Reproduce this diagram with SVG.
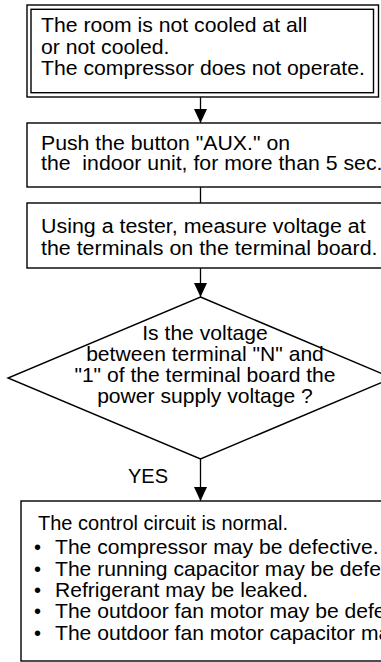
<svg xmlns="http://www.w3.org/2000/svg" width="381" height="662" viewBox="0 0 381 662">
<style>
.box{fill:#fff;stroke:#000;stroke-width:1.4}
.ln{fill:none;stroke:#000;stroke-width:1.3}
text{font-family:"Liberation Sans",Arial,sans-serif;font-size:20px;fill:#000}
.c{text-anchor:middle}
</style>
<defs>
<marker id="ah" markerWidth="14" markerHeight="14" refX="14" refY="7" orient="auto" markerUnits="userSpaceOnUse">
<path d="M0,0.5 L14,7 L0,13.5 Z" fill="#000"/>
</marker>
</defs>
<rect width="381" height="662" fill="#fff"/>
<g id="connectors">
<line class="ln" x1="200.5" y1="97" x2="200.5" y2="123" marker-end="url(#ah)"/>
<line class="ln" x1="200.5" y1="187" x2="200.5" y2="203"/>
<line class="ln" x1="200.5" y1="268" x2="200.5" y2="297" marker-end="url(#ah)"/>
<line class="ln" x1="200.5" y1="459" x2="200.5" y2="501" marker-end="url(#ah)"/>
<text x="128" y="483">YES</text>
</g>
<g id="start">
<rect class="box" x="27" y="5" width="351.5" height="92"/>
<rect class="box" x="31" y="9.3" width="342.5" height="83.4"/>
<g transform="matrix(1.06 0 0 1 -2.46 0)">
<text x="41" y="32.5">The room is not cooled at all</text>
<text x="41" y="54">or not cooled.</text>
<text x="41" y="75.5">The compressor does not operate.</text>
</g>
</g>
<g id="push">
<rect class="box" x="27" y="123" width="370" height="64"/>
<g transform="matrix(1.064 0 0 1 -2.62 0)">
<text x="41" y="150">Push the button "AUX." on</text>
<text x="41" y="170.5" xml:space="preserve">the  indoor unit, for more than 5 sec.</text>
</g>
</g>
<g id="measure">
<rect class="box" x="27" y="203" width="370" height="65"/>
<g transform="matrix(1.07 0 0 1 -2.87 0)">
<text x="41" y="233">Using a tester, measure voltage at</text>
<text x="41" y="255">the terminals on the terminal board.</text>
</g>
</g>
<g id="decision">
<polygon class="box" points="200.5,297 392,378 200.5,459 8,378"/>
<g transform="matrix(1.055 0 0 1 -11.28 0)">
<text class="c" x="205" y="340">Is the voltage</text>
<text class="c" x="205" y="361">between terminal "N" and</text>
<text class="c" x="205" y="382">"1" of the terminal board the</text>
<text class="c" x="205" y="403">power supply voltage ?</text>
</g>
</g>
<g id="result">
<rect class="box" x="21" y="501" width="380" height="160"/>
<text x="38" y="530">The control circuit is normal.</text>
<text x="34" y="554">•</text>
<text x="34" y="576">•</text>
<text x="34" y="597">•</text>
<text x="34" y="618">•</text>
<text x="34" y="640">•</text>
<g transform="matrix(1.055 0 0 1 -3.03 0)">
<text x="55" y="554">The compressor may be defective.</text>
<text x="55" y="576">The running capacitor may be defective.</text>
<text x="55" y="597">Refrigerant may be leaked.</text>
<text x="55" y="618">The outdoor fan motor may be defective.</text>
<text x="55" y="640">The outdoor fan motor capacitor may be defective.</text>
</g>
</g>
</svg>
